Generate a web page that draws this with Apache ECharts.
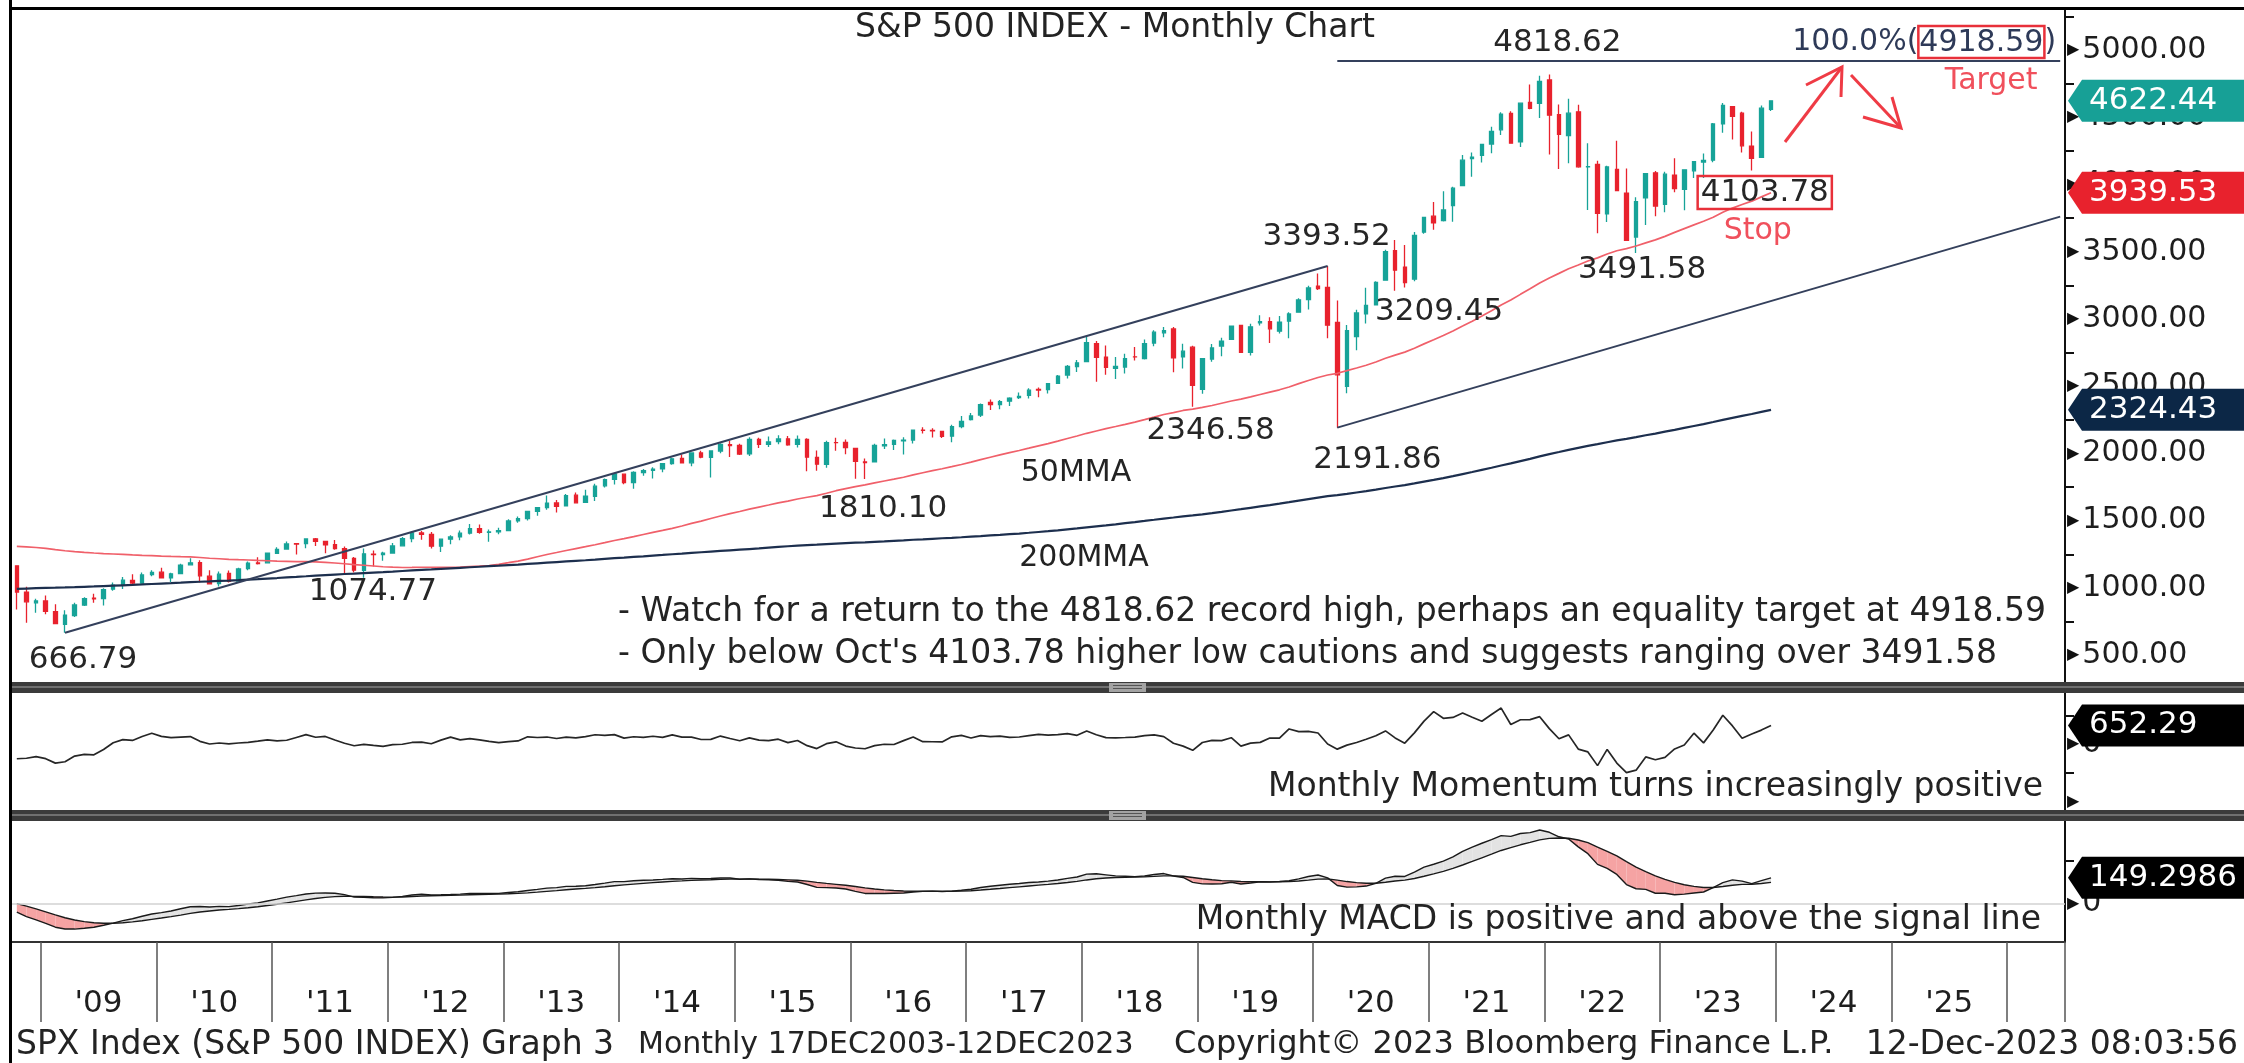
<!DOCTYPE html>
<html>
<head>
<meta charset="utf-8">
<title>S&P 500 INDEX - Monthly Chart</title>
<script src="https://cdn.jsdelivr.net/npm/echarts@6.0.0/dist/echarts.min.js"></script>
<style>
  html, body { margin: 0; padding: 0; background: #fff; }
  #chart { width: 2244px; height: 1063px; }
</style>
</head>
<body>
<div id="chart"></div>
<script>
const FONT = 'DejaVu Sans';
const UP = '#17a398';
const DOWN = '#e8222d';

// monthly bars Oct 2008 .. Dec 2023 : [open, high, low, close]
const candles = [
  [1164.17, 1164.17, 839.80, 968.75], [968.67, 1007.51, 741.02, 896.24], [888.61, 918.85, 815.69, 903.25],
  // 2009
  [902.99, 943.85, 804.22, 825.88], [823.09, 877.86, 734.52, 735.09], [729.57, 832.98, 666.79, 797.87],
  [793.59, 888.70, 783.32, 872.81], [872.74, 930.17, 866.10, 919.14], [923.26, 956.23, 888.86, 919.32],
  [920.82, 996.68, 869.32, 987.48], [990.22, 1039.47, 978.51, 1020.62], [1019.52, 1080.15, 991.97, 1057.08],
  [1054.91, 1101.36, 1029.38, 1036.19], [1036.18, 1113.69, 1029.66, 1095.63], [1098.89, 1130.38, 1085.89, 1115.10],
  // 2010
  [1116.56, 1150.45, 1071.59, 1073.87], [1073.89, 1112.42, 1044.50, 1104.49], [1105.36, 1180.16, 1105.36, 1169.43],
  [1171.23, 1219.80, 1170.69, 1186.69], [1188.58, 1205.13, 1040.78, 1089.41], [1087.30, 1131.23, 1028.33, 1030.71],
  [1031.10, 1120.95, 1010.91, 1101.60], [1107.53, 1129.24, 1039.70, 1049.33], [1049.72, 1148.90, 1049.72, 1141.20],
  [1143.49, 1196.14, 1131.87, 1183.26], [1185.71, 1227.08, 1173.00, 1180.55], [1186.60, 1262.60, 1186.60, 1257.64],
  // 2011
  [1257.62, 1302.67, 1257.62, 1286.12], [1289.14, 1344.07, 1289.14, 1327.22], [1328.64, 1332.28, 1249.05, 1325.83],
  [1329.48, 1364.56, 1294.70, 1363.61], [1365.21, 1370.58, 1311.80, 1345.20], [1345.20, 1345.20, 1258.07, 1320.64],
  [1320.64, 1356.48, 1282.86, 1292.28], [1292.59, 1307.38, 1101.54, 1218.89], [1219.12, 1229.29, 1114.22, 1131.42],
  [1131.21, 1292.66, 1074.77, 1253.30], [1251.00, 1277.55, 1158.66, 1246.96], [1246.91, 1269.37, 1202.37, 1257.60],
  // 2012
  [1258.86, 1333.47, 1258.86, 1312.41], [1312.45, 1378.04, 1312.45, 1365.68], [1365.90, 1419.15, 1340.03, 1408.47],
  [1408.47, 1422.38, 1357.38, 1397.91], [1397.86, 1415.32, 1291.98, 1310.33], [1309.87, 1363.46, 1266.74, 1362.16],
  [1362.33, 1391.74, 1325.41, 1379.32], [1379.32, 1426.68, 1354.65, 1406.58], [1406.54, 1474.51, 1396.56, 1440.67],
  [1440.90, 1470.96, 1403.28, 1412.16], [1412.20, 1434.27, 1343.35, 1416.18], [1416.18, 1448.00, 1398.11, 1426.19],
  // 2013
  [1426.19, 1509.94, 1426.19, 1498.11], [1498.11, 1530.94, 1485.01, 1514.68], [1514.68, 1570.28, 1501.48, 1569.19],
  [1569.18, 1597.57, 1536.03, 1597.57], [1597.55, 1687.18, 1581.28, 1630.74], [1631.71, 1654.19, 1560.33, 1606.28],
  [1609.78, 1698.78, 1604.57, 1685.73], [1689.42, 1709.67, 1627.47, 1632.97], [1635.95, 1729.86, 1633.41, 1681.55],
  [1681.34, 1775.22, 1646.47, 1756.54], [1758.70, 1813.55, 1746.20, 1805.81], [1806.55, 1849.44, 1767.99, 1848.36],
  // 2014
  [1845.86, 1850.84, 1770.45, 1782.59], [1782.68, 1867.92, 1737.92, 1859.45], [1857.68, 1883.97, 1834.44, 1872.34],
  [1873.96, 1897.28, 1814.36, 1883.95], [1884.39, 1924.03, 1859.79, 1923.57], [1923.87, 1968.17, 1915.98, 1960.23],
  [1962.29, 1991.39, 1930.67, 1930.67], [1929.80, 2005.04, 1904.78, 2003.37], [2004.07, 2019.26, 1964.04, 1972.29],
  [1971.44, 2018.19, 1820.66, 2018.05], [2018.21, 2075.76, 2001.01, 2067.56], [2065.78, 2093.55, 1972.56, 2058.90],
  // 2015
  [2058.90, 2072.36, 1988.12, 1994.99], [1996.67, 2119.59, 1980.90, 2104.50], [2105.23, 2117.52, 2039.69, 2067.89],
  [2067.63, 2125.92, 2048.38, 2085.51], [2087.38, 2134.72, 2067.93, 2107.39], [2108.64, 2129.87, 2056.32, 2063.11],
  [2067.00, 2132.82, 2044.02, 2103.84], [2104.49, 2112.66, 1867.01, 1972.18], [1970.09, 2020.86, 1871.91, 1920.03],
  [1919.65, 2094.32, 1893.70, 2079.36], [2080.76, 2116.48, 2019.39, 2080.41], [2082.93, 2104.27, 1993.26, 2043.94],
  // 2016
  [2038.20, 2038.20, 1812.29, 1940.24], [1936.94, 1962.96, 1810.10, 1932.23], [1937.09, 2072.21, 1937.09, 2059.74],
  [2056.62, 2111.05, 2033.80, 2065.30], [2067.17, 2103.48, 2025.91, 2096.95], [2093.94, 2120.55, 1991.68, 2098.86],
  [2099.34, 2177.09, 2074.02, 2173.60], [2173.15, 2193.81, 2147.58, 2170.95], [2171.33, 2187.87, 2119.12, 2168.27],
  [2164.33, 2169.60, 2114.72, 2126.15], [2128.68, 2214.10, 2083.79, 2198.81], [2200.17, 2277.53, 2187.44, 2238.83],
  // 2017
  [2251.57, 2300.99, 2245.13, 2278.87], [2285.59, 2371.54, 2271.65, 2363.64], [2380.13, 2400.98, 2322.25, 2362.72],
  [2362.34, 2398.16, 2328.95, 2384.20], [2388.50, 2418.71, 2352.72, 2411.80], [2415.65, 2453.82, 2405.70, 2423.41],
  [2431.39, 2484.04, 2407.70, 2470.30], [2477.10, 2490.87, 2417.35, 2471.65], [2474.42, 2519.44, 2446.55, 2519.36],
  [2521.20, 2582.98, 2520.40, 2575.26], [2583.21, 2657.74, 2557.45, 2647.58], [2645.10, 2694.97, 2605.52, 2673.61],
  // 2018
  [2683.73, 2872.87, 2682.36, 2823.81], [2816.45, 2835.96, 2532.69, 2713.83], [2715.22, 2801.90, 2585.89, 2640.87],
  [2633.45, 2717.49, 2553.80, 2648.05], [2642.96, 2742.24, 2594.62, 2705.27], [2718.70, 2791.47, 2691.99, 2718.37],
  [2704.95, 2848.03, 2698.95, 2816.29], [2821.17, 2916.50, 2796.34, 2901.52], [2896.96, 2940.91, 2864.12, 2913.98],
  [2926.29, 2939.86, 2603.54, 2711.74], [2717.58, 2815.15, 2631.09, 2760.17], [2790.50, 2800.18, 2346.58, 2506.85],
  // 2019
  [2476.96, 2708.95, 2443.96, 2704.10], [2702.32, 2813.49, 2681.83, 2784.49], [2798.22, 2860.31, 2722.27, 2834.40],
  [2848.63, 2949.52, 2848.63, 2945.83], [2952.33, 2954.13, 2750.52, 2752.06], [2751.53, 2964.15, 2728.81, 2941.76],
  [2971.41, 3027.98, 2952.22, 2980.38], [2980.32, 3013.59, 2822.12, 2926.46], [2909.01, 3021.99, 2891.85, 2976.74],
  [2983.69, 3050.10, 2855.94, 3037.56], [3050.72, 3154.26, 3050.72, 3140.98], [3143.85, 3247.93, 3070.33, 3230.78],
  // 2020
  [3244.67, 3337.77, 3214.64, 3225.52], [3235.66, 3393.52, 2855.84, 2954.22], [2974.28, 3136.72, 2191.86, 2584.59],
  [2498.08, 2954.86, 2447.49, 2912.43], [2869.09, 3068.67, 2766.64, 3044.31], [3038.78, 3233.13, 2965.66, 3100.29],
  [3105.92, 3279.99, 3101.15, 3271.12], [3288.26, 3514.77, 3284.53, 3500.31], [3507.44, 3588.11, 3209.45, 3363.00],
  [3385.87, 3549.85, 3233.94, 3269.96], [3296.20, 3645.99, 3279.74, 3621.63], [3645.87, 3760.20, 3633.40, 3756.07],
  // 2021
  [3764.61, 3870.90, 3662.71, 3714.24], [3731.17, 3950.43, 3725.62, 3811.15], [3842.51, 3983.87, 3723.34, 3972.89],
  [3992.78, 4218.78, 3992.78, 4181.17], [4191.98, 4238.04, 4056.88, 4204.11], [4216.52, 4302.43, 4164.40, 4297.50],
  [4300.73, 4429.97, 4233.13, 4395.26], [4406.86, 4537.36, 4367.73, 4522.68], [4528.80, 4545.85, 4305.91, 4307.54],
  [4317.16, 4608.08, 4278.94, 4605.38], [4610.62, 4743.83, 4560.00, 4567.00], [4602.82, 4808.93, 4495.12, 4766.18],
  // 2022
  [4778.14, 4818.62, 4222.62, 4515.55], [4519.57, 4595.31, 4114.65, 4373.94], [4363.14, 4637.30, 4157.87, 4530.41],
  [4540.32, 4593.45, 4124.28, 4131.93], [4130.61, 4307.66, 3810.32, 4132.15], [4149.78, 4177.51, 3636.87, 3785.38],
  [3781.00, 4140.15, 3721.56, 4130.29], [4112.38, 4325.28, 3954.53, 3955.00], [3936.73, 4119.28, 3584.13, 3585.62],
  [3609.78, 3905.42, 3491.58, 3871.98], [3901.79, 4080.11, 3698.15, 4080.11], [4087.14, 4100.96, 3764.49, 3839.50],
  // 2023
  [3853.29, 4094.21, 3794.33, 4076.60], [4070.07, 4195.44, 3943.08, 3970.15], [3963.34, 4110.75, 3808.86, 4109.31],
  [4102.20, 4170.06, 4049.35, 4169.48], [4166.79, 4231.10, 4048.28, 4179.83], [4181.03, 4458.48, 4166.31, 4450.38],
  [4450.48, 4607.07, 4385.05, 4588.96], [4578.83, 4584.62, 4335.31, 4507.66], [4530.60, 4541.25, 4238.63, 4288.05],
  [4284.52, 4393.57, 4103.78, 4193.80], [4201.27, 4587.64, 4197.74, 4567.80], [4559.43, 4626.00, 4546.50, 4622.44]
];

// 50-month moving average (red)
const ma50 = [
  1309.3, 1304.9, 1300.4,
  1293.4, 1283.9, 1276.2, 1269.6, 1264.4, 1259.6, 1255.5, 1252.1, 1248.6, 1244.9, 1242.2, 1240.4,
  1236.9, 1234.0, 1231.8, 1229.9, 1225.8, 1220.2, 1216.8, 1212.4, 1209.7, 1207.3, 1204.2, 1201.8,
  1199.5, 1197.7, 1195.4, 1194.6, 1193.1, 1189.8, 1185.1, 1179.4, 1172.9, 1168.5, 1162.9, 1157.1,
  1153.7, 1151.7, 1152.3, 1153.6, 1153.4, 1152.9, 1152.5, 1155.0, 1158.5, 1161.1, 1166.1, 1175.2,
  1187.2, 1199.5, 1214.3, 1231.6, 1248.2, 1262.9, 1278.2, 1292.5, 1306.4, 1321.1, 1336.1, 1352.3,
  1366.1, 1380.9, 1396.9, 1412.5, 1427.6, 1443.0, 1459.9, 1479.3, 1496.7, 1516.1, 1534.6, 1552.2,
  1568.4, 1585.4, 1601.0, 1616.2, 1631.8, 1645.8, 1661.0, 1674.0, 1686.6, 1703.8, 1722.8, 1738.6,
  1752.5, 1766.0, 1780.9, 1794.9, 1808.7, 1822.7, 1840.0, 1856.1, 1871.9, 1886.3, 1901.5, 1918.0,
  1935.3, 1954.0, 1971.3, 1988.7, 2005.6, 2022.1, 2038.9, 2056.2, 2072.9, 2091.7, 2111.0, 2129.4,
  2149.7, 2167.0, 2184.2, 2200.0, 2216.6, 2233.3, 2251.2, 2270.0, 2289.7, 2303.8, 2319.6, 2329.4,
  2342.1, 2356.6, 2373.4, 2390.2, 2403.9, 2421.0, 2438.5, 2455.8, 2473.2, 2494.5, 2519.0, 2542.0,
  2564.9, 2583.1, 2596.0, 2615.6, 2635.3, 2656.0, 2679.5, 2707.5, 2731.3, 2753.3, 2782.3, 2814.9,
  2845.2, 2876.7, 2910.6, 2946.9, 2983.8, 3022.0, 3061.7, 3103.7, 3140.4, 3183.1, 3224.1, 3267.9,
  3305.2, 3339.2, 3373.4, 3401.7, 3431.6, 3454.3, 3482.8, 3507.6, 3523.0, 3542.4, 3565.7, 3588.3,
  3614.6, 3643.9, 3672.0, 3699.7, 3726.6, 3756.7, 3793.4, 3824.7, 3850.9, 3876.2, 3908.0, 3939.5
];

// 200-month moving average (navy)
const ma200 = [
  992.7, 995.2, 997.6,
  999.7, 1001.3, 1003.2, 1005.5, 1008.0, 1010.5, 1013.3, 1016.2, 1019.3, 1022.3, 1025.5, 1028.9,
  1032.0, 1035.2, 1038.8, 1042.5, 1045.6, 1048.4, 1051.6, 1054.5, 1057.8, 1061.4, 1065.1, 1069.1,
  1073.3, 1077.7, 1082.0, 1086.4, 1090.9, 1095.1, 1099.3, 1103.1, 1106.4, 1110.2, 1114.0, 1117.7,
  1121.6, 1125.7, 1129.9, 1134.1, 1137.7, 1141.6, 1145.5, 1149.5, 1153.5, 1157.3, 1161.2, 1165.0,
  1169.2, 1173.4, 1178.0, 1182.8, 1187.5, 1192.0, 1196.6, 1201.1, 1205.6, 1210.4, 1215.7, 1220.9,
  1225.6, 1230.4, 1235.0, 1239.9, 1244.8, 1250.1, 1254.9, 1260.1, 1265.0, 1269.9, 1274.7, 1279.4,
  1284.0, 1288.8, 1293.6, 1299.2, 1304.6, 1309.5, 1314.2, 1317.9, 1321.1, 1325.3, 1329.3, 1332.8,
  1336.0, 1338.8, 1342.5, 1346.2, 1350.3, 1353.9, 1357.9, 1361.4, 1365.2, 1369.0, 1372.5, 1376.5,
  1380.8, 1385.3, 1390.0, 1394.3, 1399.2, 1404.2, 1409.9, 1415.7, 1421.5, 1428.1, 1435.6, 1442.7,
  1450.5, 1458.0, 1465.1, 1472.7, 1481.0, 1489.3, 1497.7, 1506.5, 1515.4, 1523.4, 1531.5, 1538.6,
  1546.8, 1555.8, 1565.4, 1575.5, 1585.2, 1595.5, 1605.7, 1615.9, 1626.5, 1637.5, 1649.0, 1660.6,
  1671.9, 1681.8, 1689.7, 1699.2, 1709.5, 1719.7, 1730.8, 1742.7, 1753.9, 1764.5, 1777.0, 1790.2,
  1803.2, 1816.5, 1830.9, 1846.3, 1861.7, 1877.6, 1893.7, 1910.2, 1925.8, 1942.8, 1959.8, 1977.8,
  1994.4, 2010.3, 2026.8, 2041.4, 2055.9, 2068.8, 2083.2, 2096.7, 2108.3, 2121.2, 2135.1, 2147.8,
  2161.8, 2175.3, 2189.5, 2203.8, 2218.0, 2233.4, 2249.3, 2264.8, 2279.0, 2293.0, 2308.7, 2324.4
];

// monthly momentum
const momentum = [
  -499.6, -482.3, -427.4,
  -496.8, -650.5, -602.5, -407.2, -348.2, -363.5, -178.9, 51.9, 160.8, 132.9, 269.8, 380.0,
  276.0, 231.7, 250.3, 267.4, 101.9, 10.1, 44.5, 13.1, 45.6, 68.2, 106.7, 153.2,
  116.7, 140.5, 236.4, 332.9, 243.6, 271.3, 151.1, 35.6, -49.1, -4.3, -39.2, -69.6,
  -13.4, 2.1, 63.3, 77.3, 18.1, 143.3, 247.9, 153.3, 193.7, 154.6, 103.8, 60.5,
  89.6, 116.8, 258.9, 235.4, 251.4, 199.7, 245.1, 220.8, 265.4, 330.4, 307.7, 333.7,
  213.4, 261.9, 241.6, 277.7, 237.8, 327.3, 249.1, 246.8, 166.5, 169.7, 285.0, 199.5,
  122.7, 220.6, 144.3, 125.3, 176.7, 59.7, 131.6, -45.9, -147.5, 20.5, 85.4, -60.6,
  -127.7, -153.3, -47.7, 2.2, -6.9, 126.7, 253.6, 91.6, 87.9, 82.2, 258.6, 306.6,
  219.1, 298.3, 265.8, 285.3, 238.2, 252.5, 302.0, 345.5, 320.6, 336.4, 368.7, 310.0,
  461.1, 329.6, 229.1, 224.6, 235.0, 246.7, 296.9, 326.3, 266.4, 38.1, -63.6, -207.0,
  63.2, 136.4, 129.1, 227.5, -64.2, 40.2, 66.4, 214.7, 216.6, 530.7, 436.9, 446.3,
  391.1, 8.4, -167.5, -29.3, 63.9, 173.8, 294.4, 462.8, 222.0, 39.2, 396.1, 801.9,
  1129.7, 898.7, 928.6, 1080.9, 933.0, 797.2, 1032.3, 1252.7, 685.9, 849.3, 852.8, 955.0,
  542.7, 192.8, 326.3, -165.6, -263.1, -737.3, -177.3, -650.4, -981.4, -894.2, -435.4, -534.4,
  -453.8, -161.8, -22.8, 384.1, 49.5, 495.4, 1003.3, 635.7, 208.0, 354.3, 491.2, 652.3
];

// monthly MACD and its signal line
const macd = [
  -49.4, -75.8, -95.1,
  -115.3, -137.1, -147.5, -148.0, -143.0, -137.6, -126.1, -113.1, -98.8, -88.1, -73.9, -60.4,
  -52.4, -43.2, -30.3, -18.5, -16.7, -19.8, -16.4, -17.7, -11.2, -2.6, 3.9, 15.2,
  26.1, 37.5, 46.0, 55.2, 60.3, 61.6, 59.7, 51.6, 37.7, 36.2, 34.0, 32.8,
  35.8, 42.0, 49.8, 54.5, 50.6, 51.1, 52.3, 54.9, 58.9, 59.1, 58.9, 58.9,
  63.9, 68.5, 75.6, 82.6, 89.8, 92.4, 99.8, 100.3, 103.3, 110.5, 118.8, 127.4,
  127.3, 132.0, 135.2, 137.1, 140.2, 143.9, 142.8, 146.1, 144.5, 145.3, 148.2, 148.1,
  141.3, 143.1, 139.9, 137.2, 135.3, 128.8, 125.4, 110.8, 94.0, 92.4, 90.2, 84.6,
  70.9, 58.8, 58.8, 58.5, 60.2, 61.0, 66.8, 70.5, 72.3, 69.5, 72.3, 76.9,
  82.8, 93.3, 100.3, 106.4, 112.1, 116.3, 122.0, 125.1, 130.0, 136.8, 146.3, 154.2,
  170.5, 172.7, 166.6, 160.5, 158.5, 156.1, 160.2, 168.5, 174.0, 160.2, 151.4, 122.6,
  114.4, 113.1, 114.7, 123.6, 113.6, 119.7, 126.2, 125.5, 127.6, 132.6, 143.3, 157.2,
  165.9, 149.2, 104.8, 95.1, 96.9, 101.6, 117.8, 147.5, 158.1, 157.2, 182.7, 211.3,
  228.0, 246.2, 270.6, 303.3, 327.3, 349.8, 371.2, 393.9, 390.0, 406.3, 411.3, 426.5,
  413.5, 387.3, 374.9, 329.1, 289.5, 227.5, 203.9, 169.0, 110.3, 85.9, 82.5, 59.7,
  60.0, 51.0, 54.5, 61.5, 67.1, 92.2, 121.9, 137.4, 130.4, 115.9, 133.0, 149.3
];
const signal = [
  -0.1, -15.2, -31.2,
  -48.0, -65.8, -82.1, -95.3, -104.8, -111.4, -114.3, -114.1, -111.1, -106.5, -99.9, -92.0,
  -84.1, -75.9, -66.8, -57.1, -49.0, -43.1, -37.7, -33.7, -29.2, -23.9, -18.3, -11.6,
  -4.0, 4.3, 12.6, 21.1, 29.0, 35.6, 40.4, 42.7, 41.7, 40.6, 39.2, 38.0,
  37.6, 38.5, 40.8, 43.6, 45.0, 46.2, 47.4, 48.9, 50.9, 52.5, 53.9, 54.9,
  56.7, 59.0, 62.3, 66.4, 71.0, 75.2, 80.1, 84.1, 87.9, 92.4, 97.6, 103.6,
  108.3, 113.0, 117.4, 121.3, 125.1, 128.9, 131.7, 134.6, 136.6, 138.3, 140.3, 141.9,
  141.8, 142.1, 141.7, 140.8, 139.7, 137.5, 135.1, 130.2, 123.0, 116.9, 111.6, 106.2,
  99.1, 91.1, 84.6, 79.4, 75.6, 72.7, 71.5, 71.3, 71.5, 71.1, 71.3, 72.4,
  74.5, 78.3, 82.7, 87.4, 92.3, 97.1, 102.1, 106.7, 111.4, 116.5, 122.5, 128.8,
  137.1, 144.2, 148.7, 151.1, 152.6, 153.3, 154.7, 157.5, 160.8, 160.7, 158.8, 151.6,
  144.2, 138.0, 133.3, 131.4, 127.8, 126.2, 126.2, 126.1, 126.4, 127.6, 130.7, 136.0,
  142.0, 143.4, 135.7, 127.6, 121.5, 117.5, 117.6, 123.6, 130.5, 135.8, 145.2, 158.4,
  172.3, 187.1, 203.8, 223.7, 244.4, 265.5, 286.6, 308.1, 324.5, 340.9, 355.0, 369.3,
  378.1, 380.0, 379.0, 369.0, 353.1, 328.0, 303.2, 276.4, 243.2, 211.7, 185.9, 160.7,
  140.6, 122.7, 109.1, 99.6, 93.1, 92.9, 98.7, 106.4, 111.2, 112.1, 116.3, 122.9
];

const priceTicks = [500, 1000, 1500, 2000, 2500, 3000, 3500, 4000, 4500, 5000];
const priceMinorTicks = [750, 1250, 1750, 2250, 2750, 3250, 3750, 4250, 4750, 5250];

// drawn levels
const channelLow = 666.79, channelHigh = 3393.52, covidLow = 2191.86, channelEnd = 3761, target = 4918.59;

// last-value tags on the right axis
const lastTags = [
  { axis: 0, value: 4622.44, text: '4622.44', bg: '#17a096' },
  { axis: 0, value: 3939.53, text: '3939.53', bg: '#e8222d' },
  { axis: 0, value: 2324.43, text: '2324.43', bg: '#0c2746' },
  { axis: 1, value: 652.29, text: '652.29', bg: '#000000' },
  { axis: 2, value: 149.2986, text: '149.2986', bg: '#000000' }
];

// x categories, Oct 2008 .. Jun 2026
const months = [];
for (let k = 0; k < 213; k++) {
  const y = 2008 + Math.floor((9 + k) / 12);
  const m = (9 + k) % 12 + 1;
  months.push(y + '-' + (m < 10 ? '0' : '') + m);
}

const macdBand = [];
for (let i = 0; i < macd.length - 1; i++) {
  macdBand.push([i, macd[i], signal[i], macd[i + 1], signal[i + 1]]);
}

function renderBand(params, api) {
  const i = api.value(0);
  const m0 = api.value(1), s0 = api.value(2), m1 = api.value(3), s1 = api.value(4);
  const a = api.coord([i, m0]), b = api.coord([i, s0]);
  const c = api.coord([i + 1, m1]), d = api.coord([i + 1, s1]);
  const d0 = m0 - s0, d1 = m1 - s1;
  const fill = v => (v >= 0 ? '#e3e3e3' : '#f5a3a3');
  if (d0 * d1 >= 0) {
    return { type: 'polygon', shape: { points: [a, c, d, b] }, style: { fill: fill(d0 + d1) } };
  }
  const t = d0 / (d0 - d1);
  const p = [a[0] + (c[0] - a[0]) * t, a[1] + (c[1] - a[1]) * t];
  return {
    type: 'group',
    children: [
      { type: 'polygon', shape: { points: [a, p, b] }, style: { fill: fill(d0) } },
      { type: 'polygon', shape: { points: [p, c, d] }, style: { fill: fill(d1) } }
    ]
  };
}

function note(coord, text, dx, dy, extra) {
  return {
    coord: coord,
    symbol: 'rect',
    symbolSize: 1,
    itemStyle: { color: 'rgba(0,0,0,0)' },
    label: Object.assign({
      show: true, position: 'inside', formatter: text, offset: [dx, dy],
      fontSize: 31, fontFamily: FONT, color: '#262626'
    }, extra || {})
  };
}

const tri = { fontSize: 16, color: '#111', padding: [0, 3, 0, 0] };
const lab = { fontSize: 30, color: '#1e1e1e', fontFamily: FONT };

const chart = echarts.init(document.getElementById('chart'));

const option = {
  animation: false,
  backgroundColor: '#ffffff',
  textStyle: { fontFamily: FONT },
  grid: [
    { left: 12, right: 179, top: 10, height: 672, outerBoundsMode: 'none' },
    { left: 12, right: 179, top: 693, height: 117, outerBoundsMode: 'none' },
    { left: 12, right: 179, top: 821, height: 121, outerBoundsMode: 'none' }
  ],
  xAxis: [0, 1, 2].map(g => ({
    type: 'category',
    gridIndex: g,
    data: months,
    boundaryGap: true,
    axisLine: { show: g === 2, onZero: false, lineStyle: { color: '#333', width: 2 } },
    axisTick: g === 2
      ? { show: true, interval: (i, v) => v.slice(5) === '01', length: 80, lineStyle: { color: '#555', width: 1.5 } }
      : { show: false },
    axisLabel: g === 2
      ? {
          show: true, interval: (i, v) => v.slice(5) === '07',
          formatter: v => "'" + v.slice(2, 4),
          fontSize: 31, color: '#1e1e1e', margin: 46, padding: [0, 10, 0, 0]
        }
      : { show: false },
    splitLine: { show: false }
  })),
  yAxis: [
    {
      gridIndex: 0, type: 'value', position: 'right', min: 300, max: 5298,
      axisLine: { show: true, lineStyle: { color: '#111', width: 2 } },
      axisTick: { show: true, customValues: priceMinorTicks, length: 9, lineStyle: { color: '#111', width: 2 } },
      axisLabel: {
        show: true, customValues: priceTicks, margin: 2,
        formatter: v => '{t|▶}{v|' + v.toFixed(2) + '}', rich: { t: tri, v: lab }
      },
      splitLine: { show: false }
    },
    {
      gridIndex: 1, type: 'value', position: 'right', min: -2272, max: 1774,
      axisLine: { show: true, lineStyle: { color: '#111', width: 2 } },
      axisTick: { show: true, customValues: [-1000, 1000], length: 9, lineStyle: { color: '#111', width: 2 } },
      axisLabel: {
        show: true, customValues: [-2000, 0], margin: 2,
        formatter: v => (v === 0 ? '{t|▶}{v|0}' : '{t|▶}'), rich: { t: tri, v: lab }
      },
      splitLine: { show: false }
    },
    {
      gridIndex: 2, type: 'value', position: 'right', min: -223, max: 479,
      axisLine: { show: true, lineStyle: { color: '#111', width: 2 } },
      axisTick: { show: true, customValues: [250], length: 9, lineStyle: { color: '#111', width: 2 } },
      axisLabel: {
        show: true, customValues: [0], margin: 2,
        formatter: () => '{t|▶}{v|0}', rich: { t: tri, v: lab }
      },
      splitLine: { show: false }
    }
  ],
  series: [
    {
      type: 'candlestick', name: 'SPX', xAxisIndex: 0, yAxisIndex: 0, barWidth: 4,
      data: candles.map(r => [r[0], r[3], r[2], r[1]]),
      itemStyle: { color: UP, color0: DOWN, borderColor: UP, borderColor0: DOWN, borderWidth: 1.3 }
    },
    {
      type: 'line', name: '50MMA', xAxisIndex: 0, yAxisIndex: 0, data: ma50, symbol: 'none',
      lineStyle: { color: '#f0606a', width: 1.7 }, z: 3
    },
    {
      type: 'line', name: '200MMA', xAxisIndex: 0, yAxisIndex: 0, data: ma200, symbol: 'none',
      lineStyle: { color: '#1d2f4e', width: 2.2 }, z: 3,
      markLine: {
        silent: true, symbol: ['none', 'none'], label: { show: false },
        lineStyle: { color: '#34405c', width: 2, type: 'solid' },
        data: [
          [{ coord: ['2009-03', channelLow] }, { coord: ['2020-02', channelHigh] }],
          [{ coord: ['2020-03', covidLow] }, { coord: ['2026-06', channelEnd] }],
          [{ coord: ['2020-03', target] }, { coord: ['2026-06', target] }]
        ]
      },
      markPoint: {
        silent: true,
        data: [
          note(['2009-03', 666.79], '666.79', 18, 27),
          note(['2011-10', 1074.77], '1074.77', 9, 14),
          note(['2016-02', 1810.10], '1810.10', 18, 30),
          note(['2018-12', 2346.58], '2346.58', 18, 24),
          note(['2020-03', 2191.86], '2191.86', 40, 32),
          note(['2020-02', 3393.52], '3393.52', -1, -29),
          note(['2020-09', 3209.45], '3209.45', 44, 21),
          note(['2022-10', 3491.58], '3491.58', 6, 17),
          note(['2022-01', 4818.62], '4818.62', 8, -32),
          note(['2023-10', 4103.78], '4103.78', 13, 22,
            { borderColor: '#e8303a', borderWidth: 2.5, padding: [2, 3, 0, 3] }),
          note(['2023-10', 4103.78], 'Stop', 6, 61, { color: '#f0505c', fontSize: 30 }),
          note(['2026-06', target], '{a|100.0%(}{b|4918.59}{a|)}', -136, -19, {
            rich: {
              a: { fontSize: 30, color: '#2e3a58', fontFamily: FONT },
              b: { fontSize: 30, color: '#2e3a58', fontFamily: FONT, borderColor: '#e8303a', borderWidth: 2.5, padding: [2, 1, 0, 1] }
            }
          }),
          note(['2026-06', target], 'Target', -69, 20, { color: '#f0505c', fontSize: 30 })
        ]
      }
    },
    {
      type: 'line', name: 'Momentum', xAxisIndex: 1, yAxisIndex: 1, data: momentum, symbol: 'none',
      lineStyle: { color: '#262626', width: 1.7 }
    },
    {
      type: 'custom', name: 'MACD band', xAxisIndex: 2, yAxisIndex: 2, data: macdBand,
      renderItem: renderBand, encode: { x: 0, y: [1, 2, 3, 4] }, z: 1, silent: true
    },
    {
      type: 'line', name: 'MACD', xAxisIndex: 2, yAxisIndex: 2, data: macd, symbol: 'none',
      lineStyle: { color: '#1a1a1a', width: 1.4 }, z: 3,
      markLine: {
        silent: true, symbol: ['none', 'none'], label: { show: false },
        lineStyle: { color: '#d2d2d2', width: 1.5, type: 'solid' },
        data: [{ yAxis: 0 }]
      }
    },
    {
      type: 'line', name: 'Signal', xAxisIndex: 2, yAxisIndex: 2, data: signal, symbol: 'none',
      lineStyle: { color: '#1a1a1a', width: 1.4 }, z: 3
    }
  ]
};

chart.setOption(option);

function txt(x, y, text, size, color, align) {
  return {
    type: 'text', x: x, y: y, silent: true, z: 20,
    style: { text: text, fontSize: size, fontFamily: FONT, fill: color || '#232323', align: align || 'left', verticalAlign: 'middle' }
  };
}
function separator(y) {
  return [
    { type: 'rect', z: 30, silent: true, shape: { x: 10, y: y, width: 2234, height: 11 }, style: { fill: '#3b3b3b' } },
    { type: 'rect', z: 31, silent: true, shape: { x: 10, y: y + 4, width: 2234, height: 2 }, style: { fill: '#707070' } },
    { type: 'rect', z: 32, silent: true, shape: { x: 1109, y: y + 1, width: 37, height: 9 }, style: { fill: '#a3a3a3' } },
    { type: 'rect', z: 33, silent: true, shape: { x: 1113, y: y + 3, width: 29, height: 1 }, style: { fill: '#555' } },
    { type: 'rect', z: 33, silent: true, shape: { x: 1113, y: y + 6, width: 29, height: 1 }, style: { fill: '#555' } }
  ];
}
function arrow(points) {
  return { type: 'polyline', z: 20, silent: true, shape: { points: points }, style: { stroke: '#ef3b45', lineWidth: 3, fill: null } };
}
function tag(y, text, bg) {
  return [
    { type: 'polygon', z: 50, silent: true,
      shape: { points: [[2068, y], [2082, y - 21], [2244, y - 21], [2244, y + 21], [2082, y + 21]] },
      style: { fill: bg } },
    { type: 'text', z: 51, silent: true, x: 2089, y: y,
      style: { text: text, fontSize: 31, fontFamily: FONT, fill: '#ffffff', align: 'left', verticalAlign: 'middle' } }
  ];
}

const graphics = [
  { type: 'rect', z: 40, silent: true, shape: { x: 9, y: 0, width: 3, height: 1063 }, style: { fill: '#000' } },
  { type: 'rect', z: 40, silent: true, shape: { x: 9, y: 7, width: 2235, height: 3 }, style: { fill: '#000' } },
  txt(1115, 28, 'S&P 500 INDEX - Monthly Chart', 33, '#232323', 'center'),
  txt(1076, 473, '50MMA', 30, '#232323', 'center'),
  txt(1084, 558, '200MMA', 30, '#232323', 'center'),
  txt(618, 612, '- Watch for a return to the 4818.62 record high, perhaps an equality target at 4918.59', 33),
  txt(618, 654, "- Only below Oct's 4103.78 higher low cautions and suggests ranging over 3491.58", 33),
  txt(2043, 787, 'Monthly Momentum turns increasingly positive', 33, '#232323', 'right'),
  txt(2041, 920, 'Monthly MACD is positive and above the signal line', 33, '#232323', 'right'),
  txt(16, 1045, 'SPX Index (S&P 500 INDEX) Graph 3', 33),
  txt(638, 1045, 'Monthly 17DEC2003-12DEC2023', 30),
  txt(1174, 1045, 'Copyright\u00a9 2023 Bloomberg Finance L.P.', 32),
  txt(2238, 1045, '12-Dec-2023 08:03:56', 33, '#232323', 'right'),
  arrow([[1785, 142], [1842, 67]]),
  arrow([[1806, 85], [1842, 67], [1841, 97]]),
  arrow([[1851, 75], [1901, 128]]),
  arrow([[1863, 117], [1901, 128], [1892, 97]])
].concat(separator(682), separator(810));

lastTags.forEach(t => {
  const y = chart.convertToPixel({ yAxisIndex: t.axis }, t.value);
  tag(y, t.text, t.bg).forEach(el => graphics.push(el));
});

chart.setOption({ graphic: graphics });

window.addEventListener('resize', function () {
  chart.resize();
});
</script>
</body>
</html>
